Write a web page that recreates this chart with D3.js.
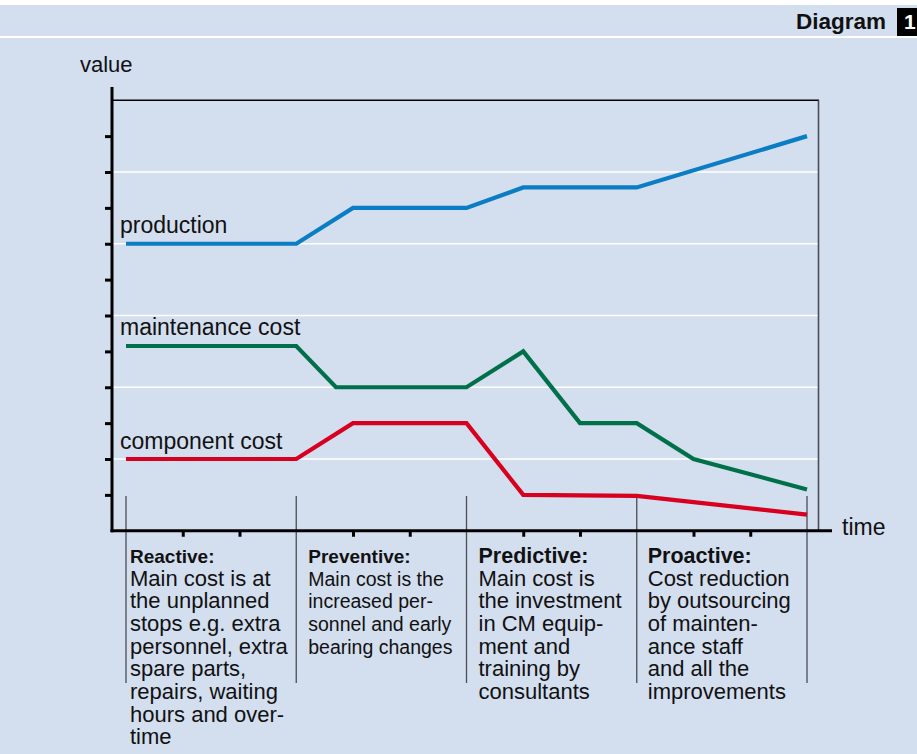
<!DOCTYPE html>
<html>
<head>
<meta charset="utf-8">
<script src="https://cdn.jsdelivr.net/npm/d3@7/dist/d3.min.js"></script>
<style>
  html, body { margin: 0; padding: 0; background: #ffffff; }
  svg { display: block; font-family: "Liberation Sans", Arial, Helvetica, sans-serif; }
</style>
</head>
<body>
<svg id="chart" width="917" height="754"></svg>
<script>
// Time axis is measured in thirds of a maintenance phase (0..12), value axis 0..12.
const phaseBounds = [0, 3, 6, 9, 12];
const timeTicks = [1, 2, 4, 5, 7, 8, 10, 11];
const valueTicks = [1, 2, 3, 4, 5, 6, 7, 8, 9, 10, 11];
const gridValues = [2, 4, 6, 8, 10];

const productionTime = [0, 3, 4, 6, 7, 9, 12];
const productionValue = [8, 8, 9, 9, 9.57, 9.57, 11.0];

const maintenanceTime = [0, 3, 3.7, 6, 7, 8, 9, 10, 12];
const maintenanceValue = [5.15, 5.15, 4, 4, 5, 3, 3, 2, 1.15];

const componentTime = [0, 3, 4, 6, 7, 9, 12];
const componentValue = [2, 2, 3, 3, 1, 0.97, 0.45];

const seriesNames = ["production", "maintenance cost", "component cost"];
const seriesColors = ["#0a7dc4", "#00704a", "#d7001f"];

const phaseTitles = ["Reactive:", "Preventive:", "Predictive:", "Proactive:"];
const phaseTexts = [
  ["Main cost is at", "the unplanned", "stops e.g. extra", "personnel, extra", "spare parts,", "repairs, waiting", "hours and over-", "time"],
  ["Main cost is the", "increased per-", "sonnel and early", "bearing changes"],
  ["Main cost is", "the investment", "in CM equip-", "ment and", "training by", "consultants"],
  ["Cost reduction", "by outsourcing", "of mainten-", "ance staff", "and all the", "improvements"]
];

const W = 917, H = 754;
const bg = "#d3deef";
const svg = d3.select("#chart");

// page background and header band
svg.append("rect").attr("x", 0).attr("y", 0).attr("width", W).attr("height", H).attr("fill", bg);
svg.append("rect").attr("x", 0).attr("y", 0).attr("width", W).attr("height", 5).attr("fill", "#ffffff");
svg.append("rect").attr("x", 0).attr("y", 36).attr("width", W).attr("height", 2).attr("fill", "#ffffff");
svg.append("text").attr("x", 886).attr("y", 29).attr("text-anchor", "end")
  .attr("font-size", 22.5).attr("font-weight", "bold").attr("fill", "#111").text("Diagram");
svg.append("rect").attr("x", 897).attr("y", 8).attr("width", 22).attr("height", 28).attr("fill", "#000");
svg.append("text").attr("x", 904).attr("y", 29).attr("font-size", 21).attr("font-weight", "bold")
  .attr("fill", "#fff").text("1");

const x = d3.scaleLinear().domain([0, 12]).range([126, 807]);
const y = d3.scaleLinear().domain([0, 12]).range([530.75, 100.25]);

const axisX = 112;

// white grid lines
svg.append("g").selectAll("line").data(gridValues).join("line")
  .attr("x1", axisX).attr("x2", 818)
  .attr("y1", d => y(d)).attr("y2", d => y(d))
  .attr("stroke", "#ffffff").attr("stroke-width", 1.5);

// frame: top and right edges
svg.append("line").attr("x1", axisX).attr("x2", 819).attr("y1", y(12)).attr("y2", y(12))
  .attr("stroke", "#000").attr("stroke-width", 1.3);
svg.append("line").attr("x1", 818.5).attr("x2", 818.5).attr("y1", y(12)).attr("y2", y(0))
  .attr("stroke", "#4a4d55").attr("stroke-width", 1.6);

// phase separators reaching down into the text area
svg.append("g").selectAll("line").data(phaseBounds).join("line")
  .attr("x1", d => x(d)).attr("x2", d => x(d))
  .attr("y1", 496).attr("y2", 683)
  .attr("stroke", "#4a4d55").attr("stroke-width", 1.3);

// value axis ticks
const yAxis = svg.append("g").attr("transform", `translate(${axisX},0)`)
  .call(d3.axisLeft(y).tickValues(valueTicks).tickSize(7).tickFormat(""));
yAxis.select(".domain").remove();
yAxis.selectAll(".tick line").attr("stroke", "#000").attr("stroke-width", 3);

// time axis ticks
const xAxis = svg.append("g").attr("transform", `translate(0,${y(0)})`)
  .call(d3.axisBottom(x).tickValues(timeTicks).tickSize(6).tickFormat(""));
xAxis.select(".domain").remove();
xAxis.selectAll(".tick line").attr("stroke", "#000").attr("stroke-width", 3);

// axis lines
svg.append("line").attr("x1", axisX).attr("x2", axisX).attr("y1", 87).attr("y2", y(0) + 1.5)
  .attr("stroke", "#000").attr("stroke-width", 3);
svg.append("line").attr("x1", axisX - 1.5).attr("x2", 832).attr("y1", y(0)).attr("y2", y(0))
  .attr("stroke", "#000").attr("stroke-width", 3);

svg.append("text").attr("x", 80).attr("y", 72).attr("font-size", 22).attr("fill", "#111").text("value");
svg.append("text").attr("x", 842).attr("y", 535).attr("font-size", 23).attr("fill", "#111").text("time");

// series lines
const series = [
  { name: seriesNames[0], color: seriesColors[0], pts: d3.zip(productionTime, productionValue) },
  { name: seriesNames[1], color: seriesColors[1], pts: d3.zip(maintenanceTime, maintenanceValue) },
  { name: seriesNames[2], color: seriesColors[2], pts: d3.zip(componentTime, componentValue) }
];
const line = d3.line().x(d => x(d[0])).y(d => y(d[1]));

svg.append("g").selectAll("path").data(series).join("path")
  .attr("d", d => line(d.pts))
  .attr("fill", "none").attr("stroke", d => d.color)
  .attr("stroke-width", 4.2).attr("stroke-linejoin", "miter");

svg.append("g").selectAll("text").data(series).join("text")
  .attr("x", 120).attr("y", d => y(d.pts[0][1]) - 10.5)
  .attr("font-size", 23).attr("fill", "#111").text(d => d.name);

// phase descriptions below the time axis
const titleSizes = [19, 19, 21.5, 21.5];
const bodySizes = [22, 19.5, 22, 22];
const textPad = [4, 12, 12, 11];
const lineStep = 22.7;

phaseTitles.forEach((title, i) => {
  const tx = x(phaseBounds[i]) + textPad[i];
  const g = svg.append("g");
  g.append("text").attr("x", tx).attr("y", 562.5)
    .attr("font-size", titleSizes[i]).attr("font-weight", "bold").attr("fill", "#111").text(title);
  g.selectAll("text.body").data(phaseTexts[i]).join("text").attr("class", "body")
    .attr("x", tx).attr("y", (d, j) => 585.5 + j * lineStep)
    .attr("font-size", bodySizes[i]).attr("fill", "#111").text(d => d);
});
</script>
</body>
</html>
